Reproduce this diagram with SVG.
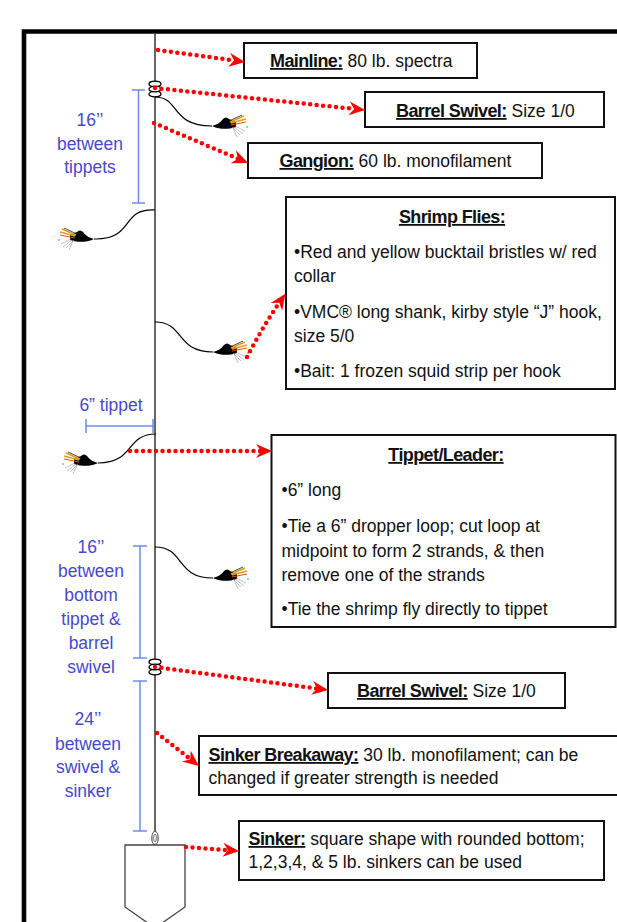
<svg xmlns="http://www.w3.org/2000/svg" xmlns:xlink="http://www.w3.org/1999/xlink" width="617" height="922" viewBox="0 0 617 922">
  <style>
    text { font-family: "Liberation Sans", Arial, sans-serif; font-size: 17.5px; fill: #111; }
    .b { font-weight: bold; font-size: 18px; letter-spacing: -0.6px; text-decoration: underline; }
    .dim { fill: #4848cc; text-anchor: middle; }
    .dimline { stroke: #6a8cf0; stroke-width: 1.5; fill: none; }
    .box { fill: #fff; stroke: #111; stroke-width: 2; }
    .dots { fill: none; stroke: #f00; stroke-width: 4.5; stroke-linecap: round; stroke-dasharray: 0 6.5; }
    .gang { fill: none; stroke: #000; stroke-width: 1.2; }
    .ring { fill: #fff; stroke: #000; stroke-width: 1.3; }
  </style>
  <defs>
    <marker id="arrow" viewBox="0 0 16 14" refX="6" refY="7" markerWidth="16" markerHeight="14" orient="auto" markerUnits="userSpaceOnUse">
      <path d="M16,7 L0,0 L5,7 L0,14 Z" fill="#f00"/>
    </marker>
    <!-- shrimp fly, tied at (0,0), pointing right -->
    <g id="fly">
      <path d="M0,0 C4,-1 8,-3 11,-7 C13,-9 15,-9 17,-7 L24,-4 L24,1 C18,3 12,3 8,2.5 C5,2 2,1 0,0 Z" fill="#000"/>
      <path d="M18,-4 L32,-10 M19,-3 L34,-7" stroke="#d8a020" stroke-width="1.8" fill="none"/>
      <path d="M19,-1 L34,-4" stroke="#e05010" stroke-width="1" fill="none"/>
      <path d="M17,-5 L30,-11" stroke="#222" stroke-width="0.8" fill="none"/>
      <path d="M20,1 L28,9 M22,1 L31,8 M21,2 L25,11 M23,0 L33,5" stroke="#999" stroke-width="0.6" fill="none"/>
      <circle cx="35" cy="1" r="0.9" fill="#30d8f0"/>
    </g>
    <!-- barrel swivel -->
    <g id="swivel">
      <ellipse class="ring" cx="0" cy="-5" rx="6" ry="2.8"/>
      <ellipse class="ring" cx="0" cy="5" rx="6" ry="2.8"/>
      <ellipse class="ring" cx="0" cy="0" rx="6" ry="2.8"/>
    </g>
  </defs>

  <rect width="617" height="922" fill="#fff"/>

  <!-- page frame -->
  <path id="frame" d="M24,922 V31.5 H619" fill="none" stroke="#000" stroke-width="4.6"/>

  <!-- mainline -->
  <g id="mainline">
    <line x1="155" y1="34" x2="155" y2="832" stroke="#000" stroke-width="1.2"/>
  </g>

  <!-- gangions -->
  <g id="gangions">
    <path class="gang" d="M155,97 C180,97 170,126 212,126"/>
    <path class="gang" d="M155,210 C120,208 135,240 94,239"/>
    <path class="gang" d="M155,322 C185,322 175,352 213,352"/>
    <path class="gang" d="M156,434 C125,434 135,463 98,463"/>
    <path class="gang" d="M155,547 C185,547 175,578 213,578"/>
  </g>

  <!-- flies -->
  <g id="fly-1"><use xlink:href="#fly" transform="translate(212,126)"/></g>
  <g id="fly-2"><use xlink:href="#fly" transform="translate(94,239) scale(-1,1)"/></g>
  <g id="fly-3"><use xlink:href="#fly" transform="translate(213,352)"/></g>
  <g id="fly-4"><use xlink:href="#fly" transform="translate(98,463) scale(-1,1)"/></g>
  <g id="fly-5"><use xlink:href="#fly" transform="translate(213,578)"/></g>

  <!-- swivels -->
  <g id="swivel-top"><use xlink:href="#swivel" transform="translate(155,89)"/></g>
  <g id="swivel-bottom"><use xlink:href="#swivel" transform="translate(155,667)"/></g>

  <!-- sinker -->
  <g id="sinker">
    <ellipse cx="155" cy="838" rx="3.2" ry="6.5" fill="#fff" stroke="#555" stroke-width="1.2"/>
    <ellipse cx="155" cy="838" rx="1.4" ry="4" fill="none" stroke="#555" stroke-width="0.8"/>
    <path d="M125,845 H185 V907 L155,928 L125,907 Z" fill="#fff" stroke="#444" stroke-width="1.3"/>
  </g>

  <!-- dimensions -->
  <g id="dim-top">
    <path class="dimline" d="M138.5,90 V203 M132,90 H145 M132,203 H145"/>
    <text class="dim" x="90" y="126">16’’</text>
    <text class="dim" x="90" y="150">between</text>
    <text class="dim" x="90" y="173">tippets</text>
  </g>
  <g id="dim-tippet">
    <path class="dimline" d="M86,426 H153 M86,419 V433 M153,419 V433"/>
    <text class="dim" x="111" y="411">6” tippet</text>
  </g>
  <g id="dim-bottom">
    <path class="dimline" d="M140,546 V658 M133,546 H147 M133,658 H147"/>
    <text class="dim" x="91" y="553">16’’</text>
    <text class="dim" x="91" y="577">between</text>
    <text class="dim" x="91" y="601">bottom</text>
    <text class="dim" x="91" y="625">tippet &amp;</text>
    <text class="dim" x="91" y="649">barrel</text>
    <text class="dim" x="91" y="673">swivel</text>
  </g>
  <g id="dim-sinker">
    <path class="dimline" d="M140,681 V831 M133,681 H147 M133,831 H147"/>
    <text class="dim" x="88" y="725">24’’</text>
    <text class="dim" x="88" y="750">between</text>
    <text class="dim" x="88" y="773">swivel &amp;</text>
    <text class="dim" x="88" y="797">sinker</text>
  </g>

  <!-- label boxes -->
  <g id="mainline-label">
    <rect class="box" x="244" y="43" width="233" height="35"/>
    <text x="270" y="67"><tspan class="b">Mainline:</tspan> 80 lb. spectra</text>
  </g>
  <g id="swivel-top-label">
    <rect class="box" x="365" y="92" width="239" height="35"/>
    <text x="396" y="117"><tspan class="b">Barrel Swivel:</tspan> Size 1/0</text>
  </g>
  <g id="gangion-label">
    <rect class="box" x="248" y="143" width="294" height="35"/>
    <text x="279.5" y="167"><tspan class="b">Gangion:</tspan> 60 lb. monofilament</text>
  </g>
  <g id="flies-label">
    <rect class="box" x="286" y="197" width="329" height="192"/>
    <text x="452" y="223" text-anchor="middle"><tspan class="b">Shrimp Flies:</tspan></text>
    <text x="294" y="258">•Red and yellow bucktail bristles w/ red</text>
    <text x="294" y="282">collar</text>
    <text x="294" y="318">•VMC® long shank, kirby style “J” hook,</text>
    <text x="294" y="342">size 5/0</text>
    <text x="294" y="377">•Bait: 1 frozen squid strip per hook</text>
  </g>
  <g id="tippet-label">
    <rect class="box" x="271.5" y="435" width="344" height="192"/>
    <text x="446" y="461" text-anchor="middle"><tspan class="b">Tippet/Leader:</tspan></text>
    <text x="281.5" y="496">•6” long</text>
    <text x="281.5" y="532">•Tie a 6” dropper loop; cut loop at</text>
    <text x="281.5" y="557">midpoint to form 2 strands, &amp; then</text>
    <text x="281.5" y="581">remove one of the strands</text>
    <text x="281.5" y="615">•Tie the shrimp fly directly to tippet</text>
  </g>
  <g id="swivel-bottom-label">
    <rect class="box" x="328" y="673" width="237" height="35"/>
    <text x="357" y="697"><tspan class="b">Barrel Swivel:</tspan> Size 1/0</text>
  </g>
  <g id="breakaway-label">
    <rect class="box" x="199" y="736" width="425" height="59"/>
    <text x="208.5" y="761"><tspan class="b">Sinker Breakaway:</tspan> 30 lb. monofilament; can be</text>
    <text x="208.5" y="784">changed if greater strength is needed</text>
  </g>
  <g id="sinker-label">
    <rect class="box" x="239" y="821" width="365" height="59"/>
    <text x="248.5" y="845"><tspan class="b">Sinker:</tspan> square shape with rounded bottom;</text>
    <text x="248.5" y="868">1,2,3,4, &amp; 5 lb. sinkers can be used</text>
  </g>

  <!-- connectors -->
  <g id="connectors">
    <path class="dots" d="M158,50 L235.1,60.6" marker-end="url(#arrow)"/>
    <path class="dots" d="M155,88 L355.1,109" marker-end="url(#arrow)"/>
    <path class="dots" d="M154,123 L238.8,159.1" marker-end="url(#arrow)"/>
    <path class="dots" d="M247,357 Q262,328 279.8,301.9" marker-end="url(#arrow)"/>
    <path class="dots" d="M130,451 L262,451" marker-end="url(#arrow)"/>
    <path class="dots" d="M155,667 L318.1,688.7" marker-end="url(#arrow)"/>
    <path class="dots" d="M157,733 L191.1,759.8" marker-end="url(#arrow)"/>
    <path class="dots" d="M186,847 L229,850.2" marker-end="url(#arrow)"/>
  </g>
</svg>
